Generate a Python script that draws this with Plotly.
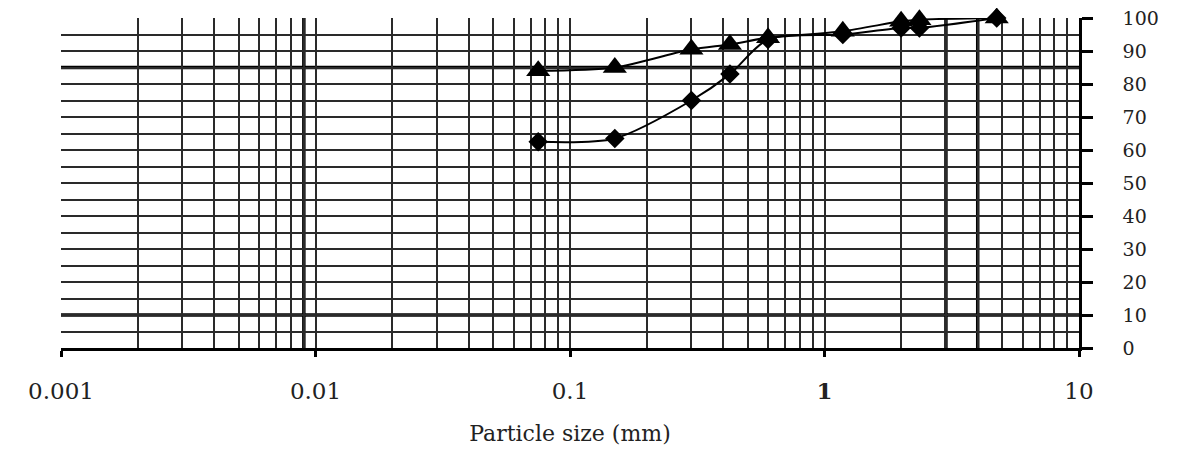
import plotly.graph_objects as go

# Sieve sizes (mm)
sizes = [0.075, 0.15, 0.3, 0.425, 0.6, 1.18, 2.0, 2.36, 4.75]
# Percent passing
series_tri = [84, 85, 90.5, 92, 94, 96, 99, 99.5, 100]
series_dia = [62.5, 63.5, 75, 83, 93.5, 95, 97, 97, 100]

x_tick_vals = [0.001, 0.01, 0.1, 1, 10]
x_tick_text = ["0.001", "0.01", "0.1", "<b>1</b>", "10"]
x_minor_vals = [m * d for d in [0.001, 0.01, 0.1, 1] for m in range(2, 10)]
y_tick_vals = [0, 10, 20, 30, 40, 50, 60, 70, 80, 90, 100]

thick_x = [0.009, 3, 4]
thick_y = [10, 85]

fig = go.Figure()
fig.add_trace(go.Scatter(
    x=sizes, y=series_dia, mode="lines+markers",
    line=dict(color="black", width=2, shape="spline", smoothing=0.8),
    marker=dict(symbol="diamond", size=15, color="black"),
    showlegend=False, cliponaxis=False))
fig.add_trace(go.Scatter(
    x=sizes, y=series_tri, mode="lines+markers",
    line=dict(color="black", width=2, shape="spline", smoothing=0.8),
    marker=dict(symbol="triangle-up", size=21, color="black"),
    showlegend=False, cliponaxis=False))

for xv in thick_x:
    fig.add_vline(x=xv, line=dict(color="black", width=3.5), layer="below")
for yv in thick_y:
    fig.add_hline(y=yv, line=dict(color="black", width=3.5), layer="below")

fig.update_xaxes(
    type="log", range=[-3, 1],
    tickmode="array", tickvals=x_tick_vals, ticktext=x_tick_text,
    ticks="outside", ticklen=6, tickwidth=3, tickcolor="black",
    showgrid=True, gridcolor="#2a2a2a", gridwidth=1.5,
    minor=dict(tickmode="array", tickvals=x_minor_vals, showgrid=True,
               gridcolor="#2a2a2a", gridwidth=1.5, ticks=""),
    showline=True, linecolor="black", linewidth=2.5,
    zeroline=False, automargin=False, ticklabeloverflow="allow",
    tickfont=dict(family="DejaVu Serif", size=23, color="#222"),
    ticklabelstandoff=15,
    title=dict(text="Particle size (mm)", standoff=26,
               font=dict(family="DejaVu Serif", size=22, color="#222")),
)
fig.update_yaxes(
    range=[0, 100], side="right",
    tickmode="array", tickvals=y_tick_vals,
    ticks="outside", ticklen=11, tickwidth=2.5, tickcolor="black",
    showgrid=True, gridcolor="#2a2a2a", gridwidth=1.5,
    minor=dict(dtick=5, showgrid=True, gridcolor="#2a2a2a", gridwidth=1.5, ticks=""),
    showline=True, linecolor="black", linewidth=2.5,
    zeroline=False, automargin=False, ticklabeloverflow="allow",
    tickfont=dict(family="DejaVu Serif", size=19, color="#222"),
    ticklabelstandoff=26,
)
fig.update_layout(
    width=1175, height=438,
    margin=dict(l=53, r=104, t=10, b=98, autoexpand=False),
    plot_bgcolor="white", paper_bgcolor="white",
)
fig.write_html("out.html")
